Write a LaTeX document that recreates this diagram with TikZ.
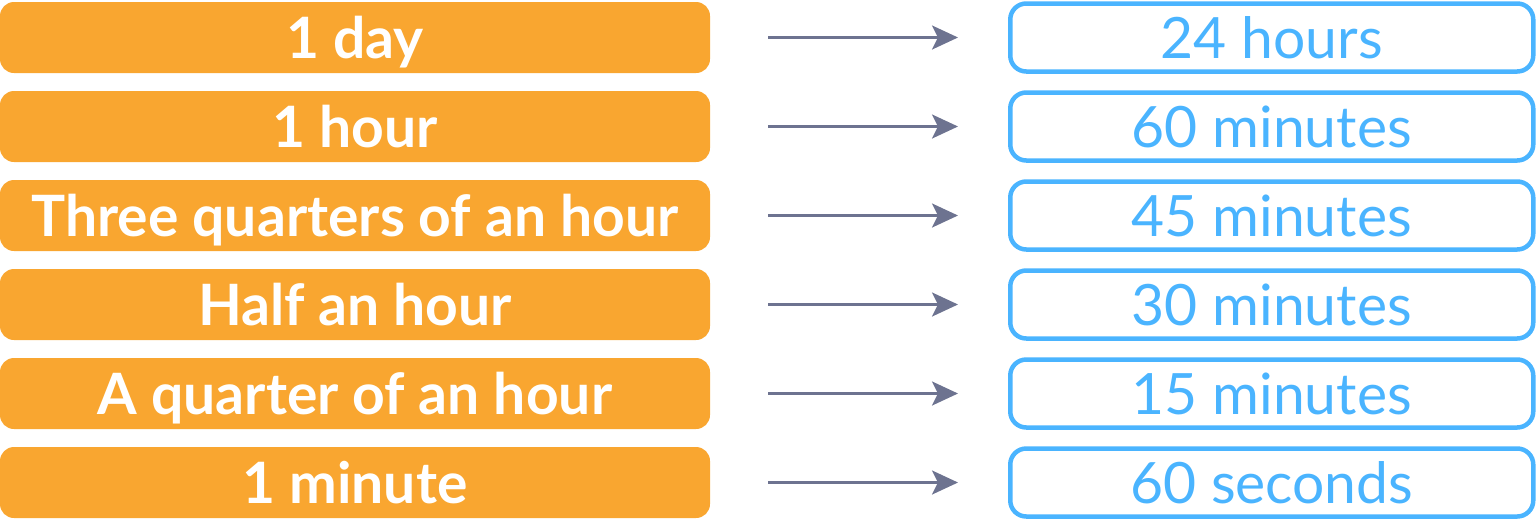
\documentclass[tikz,border=0pt]{standalone}
\usepackage{fontspec}
\setmainfont{Lato}
\usetikzlibrary{arrows.meta}
\usetikzlibrary{positioning}
\usepackage{xcolor}
\definecolor{unitorange}{HTML}{F9A630}
\definecolor{unitblue}{HTML}{4AB4FF}
\definecolor{arrowgray}{HTML}{6D7390}

\begin{document}
\begin{tikzpicture}[x=1pt, y=-1pt, node distance=18pt and 298pt,
  unit/.style={rectangle, rounded corners=14pt, fill=unitorange, text=white,
    minimum width=710pt, minimum height=71pt, inner sep=0pt, outer sep=0pt,
    font=\fontsize{57}{62}\selectfont\bfseries, text height=42pt, text depth=0pt},
  value/.style={rectangle, rounded corners=16pt, draw=unitblue, line width=4.5pt,
    text=unitblue, minimum width=523pt, minimum height=68pt, inner sep=0pt,
    font=\fontsize{57}{62}\selectfont, text height=42pt, text depth=0pt},
  conv/.style={-{Stealth[length=26pt, width=24pt, inset=6pt]}, line width=3pt,
    draw=arrowgray, shorten <=58pt, shorten >=50pt}]
  \useasboundingbox (0,0) rectangle (1536,520);

  % time spans on the left
  \node[unit] (day) at (355,37.5) {1 day};
  \node[unit] (hour) [below=of day] {1 hour};
  \node[unit] (threeq) [below=of hour] {Three quarters of an hour};
  \node[unit] (half) [below=of threeq] {Half an hour};
  \node[unit] (quarter) [below=of half] {A quarter of an hour};
  \node[unit] (minute) [below=of quarter] {1 minute};

  % what they are worth on the right
  \node[value] (dayv) [right=of day] {24 hours};
  \node[value] (hourv) [right=of hour] {60 minutes};
  \node[value] (threeqv) [right=of threeq] {45 minutes};
  \node[value] (halfv) [right=of half] {30 minutes};
  \node[value] (quarterv) [right=of quarter] {15 minutes};
  \node[value] (minutev) [right=of minute] {60 seconds};

  \draw[conv] (day) -- (dayv);
  \draw[conv] (hour) -- (hourv);
  \draw[conv] (threeq) -- (threeqv);
  \draw[conv] (half) -- (halfv);
  \draw[conv] (quarter) -- (quarterv);
  \draw[conv] (minute) -- (minutev);
\end{tikzpicture}
\end{document}
